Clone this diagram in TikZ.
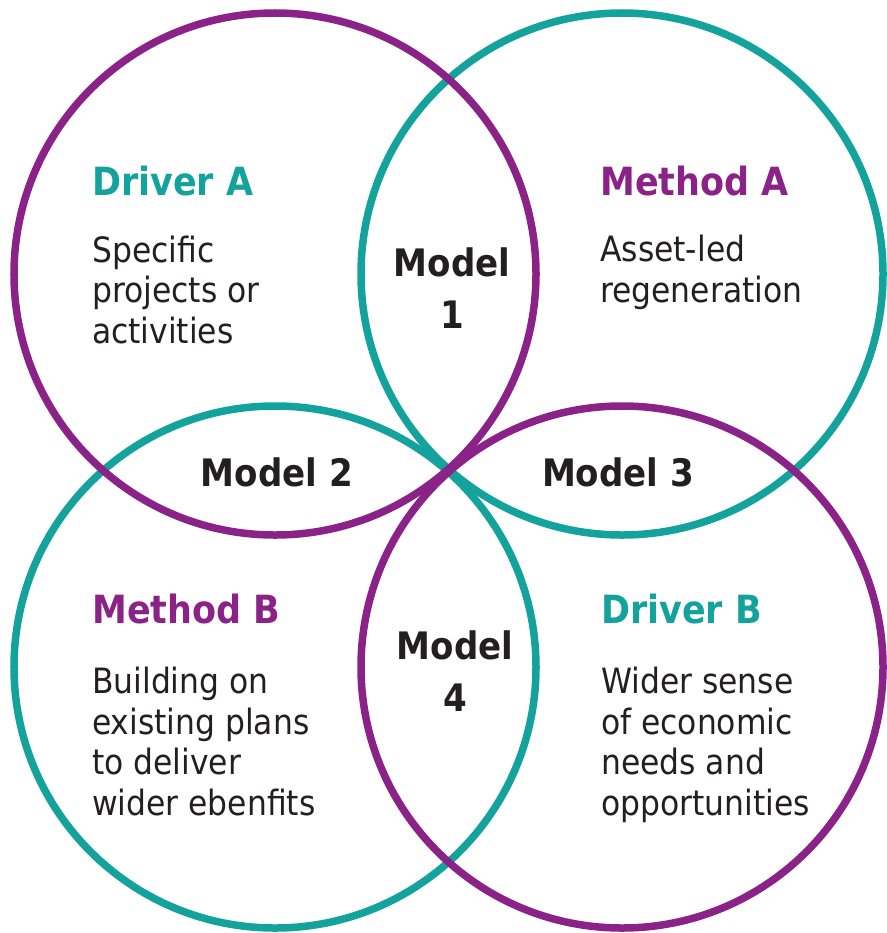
\documentclass[tikz,border=0pt]{standalone}
\usepackage{fontspec}
\setmainfont{DejaVu Sans Condensed}
\usepackage{tikz}
\usetikzlibrary{positioning}
\definecolor{vpurple}{HTML}{8A2287}
\definecolor{vteal}{HTML}{14A39C}
\definecolor{vtext}{HTML}{231F20}

\begin{document}
\begin{tikzpicture}[x=1bp,y=-1bp]
            \tikzstyle{ring}=[line width=7.5bp]
            \tikzstyle{heading}=[anchor=base west,inner sep=0pt,font=\fontsize{39}{39}\selectfont\bfseries]
            \tikzstyle{body}=[anchor=base west,inner sep=0pt,align=left,text=vtext,font=\fontsize{35}{40.5}\selectfont]
            \tikzstyle{model}=[anchor=base,inner sep=0pt,align=center,text=vtext,font=\fontsize{38}{52}\selectfont\bfseries]
            \useasboundingbox (0,0) rectangle (887,933);
            \coordinate (tl) at (275,274);
            \coordinate (tr) at (622,274);
            \coordinate (bl) at (275,667);
            \coordinate (br) at (622,667);
            \draw[ring,vteal] (tr) circle[radius=261bp];
            \draw[ring,vteal] (bl) circle[radius=261bp];
            \draw[ring,vpurple] (tl) circle[radius=261bp];
            \draw[ring,vpurple] (br) circle[radius=261bp];
            % multi-line nodes sit on their last line
            \node[heading,text=vteal] (drvA) at (92,195) {Driver A};
            \node[body] (drvAtxt) at (92,343) {Specific\\projects or\\activities};
            \node[heading,text=vpurple] (methA) at (600,195) {Method A};
            \node[body] (methAtxt) at (600,302) {Asset-led\\regeneration};
            \node[heading,text=vpurple] (methB) at (92,623) {Method B};
            \node[body] (methBtxt) at (92,815) {Building on\\existing plans\\to deliver\\wider ebenfits};
            \node[heading,text=vteal] (drvB) at (601,623) {Driver B};
            \node[body] (drvBtxt) at (601,815) {Wider sense\\of economic\\needs and\\opportunities};
            \node[model] (mod1) at (452,328) {Model\\1};
            \node[model] (mod2) at (277,486) {Model 2};
            \node[model] (mod3) at (618,486) {Model 3};
            \node[model] (mod4) at (455,711) {Model\\4};
        \end{tikzpicture}
\end{document}
